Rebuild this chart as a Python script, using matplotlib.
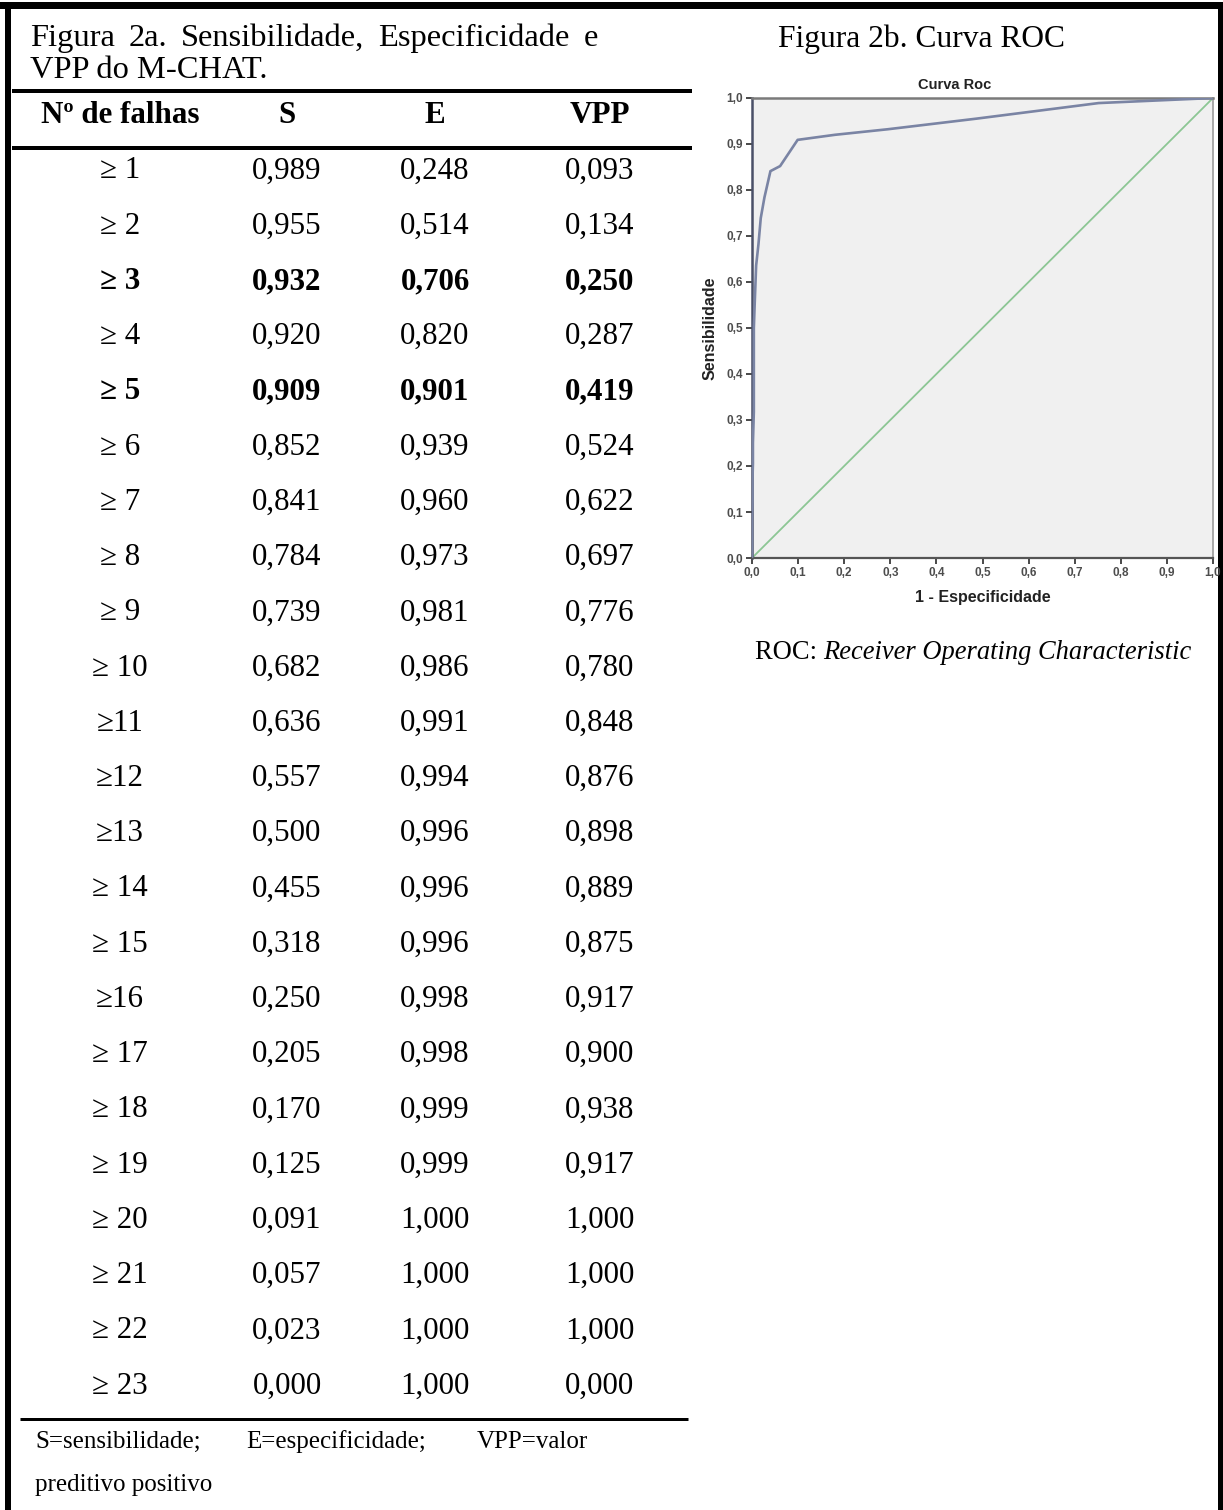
import matplotlib
matplotlib.use("Agg")
import matplotlib.pyplot as plt
from matplotlib.ticker import FixedLocator, FuncFormatter
from matplotlib.patches import Rectangle

# ---------------- data ----------------
falhas = ["≥ 1", "≥ 2", "≥ 3", "≥ 4", "≥ 5", "≥ 6", "≥ 7", "≥ 8", "≥ 9", "≥ 10",
          "≥11", "≥12", "≥13", "≥ 14", "≥ 15", "≥16", "≥ 17", "≥ 18", "≥ 19",
          "≥ 20", "≥ 21", "≥ 22", "≥ 23"]
sens = [0.989, 0.955, 0.932, 0.920, 0.909, 0.852, 0.841, 0.784, 0.739, 0.682,
        0.636, 0.557, 0.500, 0.455, 0.318, 0.250, 0.205, 0.170, 0.125, 0.091,
        0.057, 0.023, 0.000]
espec = [0.248, 0.514, 0.706, 0.820, 0.901, 0.939, 0.960, 0.973, 0.981, 0.986,
         0.991, 0.994, 0.996, 0.996, 0.996, 0.998, 0.998, 0.999, 0.999, 1.000,
         1.000, 1.000, 1.000]
vpp = [0.093, 0.134, 0.250, 0.287, 0.419, 0.524, 0.622, 0.697, 0.776, 0.780,
       0.848, 0.876, 0.898, 0.889, 0.875, 0.917, 0.900, 0.938, 0.917, 1.000,
       1.000, 1.000, 0.000]
bold_rows = [2, 4]
headers = ["Nº de falhas", "S", "E", "VPP"]
roc_start = (0.0, 0.0)
roc_end = (1.0, 1.0)
chance = [0.0, 1.0]
ticks = [0.0, 0.1, 0.2, 0.3, 0.4, 0.5, 0.6, 0.7, 0.8, 0.9, 1.0]

W, H = 1223, 1510
DPI = 100
SERIF = ["Liberation Serif", "DejaVu Serif"]
SANS = ["Liberation Sans", "DejaVu Sans"]

def px(v):
    return v * 72.0 / DPI

fig = plt.figure(figsize=(W / DPI, H / DPI), dpi=DPI)
fig.patch.set_facecolor("white")
bg = fig.add_axes([0, 0, 1, 1])
bg.set_xlim(0, W)
bg.set_ylim(H, 0)
bg.axis("off")

# outer frame
bg.add_patch(Rectangle((0, 2), W, 7, color="black", lw=0))
bg.add_patch(Rectangle((5, 2), 6, H, color="black", lw=0))
bg.add_patch(Rectangle((1218, 2), 5, H, color="black", lw=0))

# ---------------- table ----------------
fs_tab = px(31)
fs_title = px(32.5)
renderer = fig.canvas.get_renderer()

# justified first title line
words = ["Figura", "2a.", "Sensibilidade,", "Especificidade", "e"]
x0, x1 = 30, 598
tobjs = [bg.text(0, 46, w, fontsize=fs_title, family=SERIF, ha="left", va="baseline")
         for w in words]
inv = bg.transData.inverted()
widths = []
for t in tobjs:
    bb = t.get_window_extent(renderer=renderer)
    (a, _), (b, _) = inv.transform([(bb.x0, bb.y0), (bb.x1, bb.y1)])
    widths.append(b - a)
gap = (x1 - x0 - sum(widths)) / (len(words) - 1)
xx = x0
for t, wd in zip(tobjs, widths):
    t.set_x(xx)
    xx += wd + gap
bg.text(x0, 78, "VPP do M-CHAT.", fontsize=fs_title, family=SERIF, ha="left", va="baseline")

# rules
bg.plot([12, 692], [91, 91], color="black", lw=px(4), solid_capstyle="butt")
bg.plot([12, 692], [148, 148], color="black", lw=px(4), solid_capstyle="butt")
bg.plot([20, 688], [1419, 1419], color="black", lw=px(3), solid_capstyle="butt")

col_x = [120, 287, 435, 600]
for cx, h in zip(col_x, headers):
    bg.text(cx, 123, h, fontsize=fs_tab, family=SERIF, weight="bold",
            ha="center", va="baseline")

row0, step = 168, 55.23
for i, lab in enumerate(falhas):
    yb = row0 + i * step + 10.5
    wt = "bold" if i in bold_rows else "normal"
    vals = [lab] + [f"{v:.3f}".replace(".", ",") for v in (sens[i], espec[i], vpp[i])]
    for cx, s in zip(col_x, vals):
        bg.text(cx, yb, s, fontsize=fs_tab, family=SERIF, weight=wt,
                ha="center", va="baseline")

fs_foot = px(25)
for fx, s in zip([35, 246, 477], ["S=sensibilidade;", "E=especificidade;", "VPP=valor"]):
    bg.text(fx, 1448, s, fontsize=fs_foot, family=SERIF, ha="left", va="baseline")
bg.text(35, 1491, "preditivo positivo", fontsize=fs_foot, family=SERIF,
        ha="left", va="baseline")

# ---------------- ROC panel ----------------
bg.text(921, 47, "Figura 2b. Curva ROC", fontsize=px(31.5), family=SERIF,
        ha="center", va="baseline")
cap = bg.text(755, 659, "ROC: ", fontsize=px(26.5), family=SERIF, ha="left", va="baseline")
bb = cap.get_window_extent(renderer=renderer)
cx_end = inv.transform((bb.x1, bb.y0))[0]
bg.text(cx_end, 659, "Receiver Operating Characteristic", fontsize=px(26.5),
        family=SERIF, style="italic", ha="left", va="baseline")

L, R, T, B = 752, 1213, 98, 558
ax = fig.add_axes([L / W, 1 - B / H, (R - L) / W, (B - T) / H])
ax.set_facecolor("#f0f0f0")
fpr = [roc_start[0]] + [1 - e for e in espec[::-1]] + [roc_end[0]]
tpr = [roc_start[1]] + sens[::-1] + [roc_end[1]]
ax.plot(chance, chance, color="#8cc694", lw=1.3, zorder=2)
ax.plot(fpr, tpr, color="#7a84a4", lw=1.9, zorder=3, solid_joinstyle="round")
ax.set_xlim(0, 1)
ax.set_ylim(0, 1)
fmt = FuncFormatter(lambda v, p: f"{v:.1f}".replace(".", ","))
for axis in (ax.xaxis, ax.yaxis):
    axis.set_major_locator(FixedLocator(ticks))
    axis.set_major_formatter(fmt)
ax.tick_params(direction="out", length=4.5, width=1.3, color="#3a3a3a",
               labelsize=8.5, labelcolor="#4d4d4d", pad=2)
for lbl in ax.get_xticklabels() + ax.get_yticklabels():
    lbl.set_family(SANS)
    lbl.set_fontweight("bold")
ax.spines["left"].set_color("#4a5068")
ax.spines["left"].set_linewidth(1.8)
ax.spines["bottom"].set_color("#555555")
ax.spines["bottom"].set_linewidth(1.6)
ax.spines["top"].set_color("#7a7a7a")
ax.spines["top"].set_linewidth(1.8)
ax.spines["right"].set_color("#9a9a9a")
ax.spines["right"].set_linewidth(1.2)
ax.set_xlabel("1 - Especificidade", fontsize=11.5, family=SANS, weight="bold",
              color="#222222", labelpad=8)
ax.set_ylabel("Sensibilidade", fontsize=11.5, family=SANS, weight="bold",
              color="#222222", labelpad=6)
bg.text(955, 85, "Curva Roc", fontsize=10.5, family=SANS, weight="bold",
        color="#222222", ha="center", va="center")

fig.savefig("out.png", dpi=DPI, facecolor="white")
